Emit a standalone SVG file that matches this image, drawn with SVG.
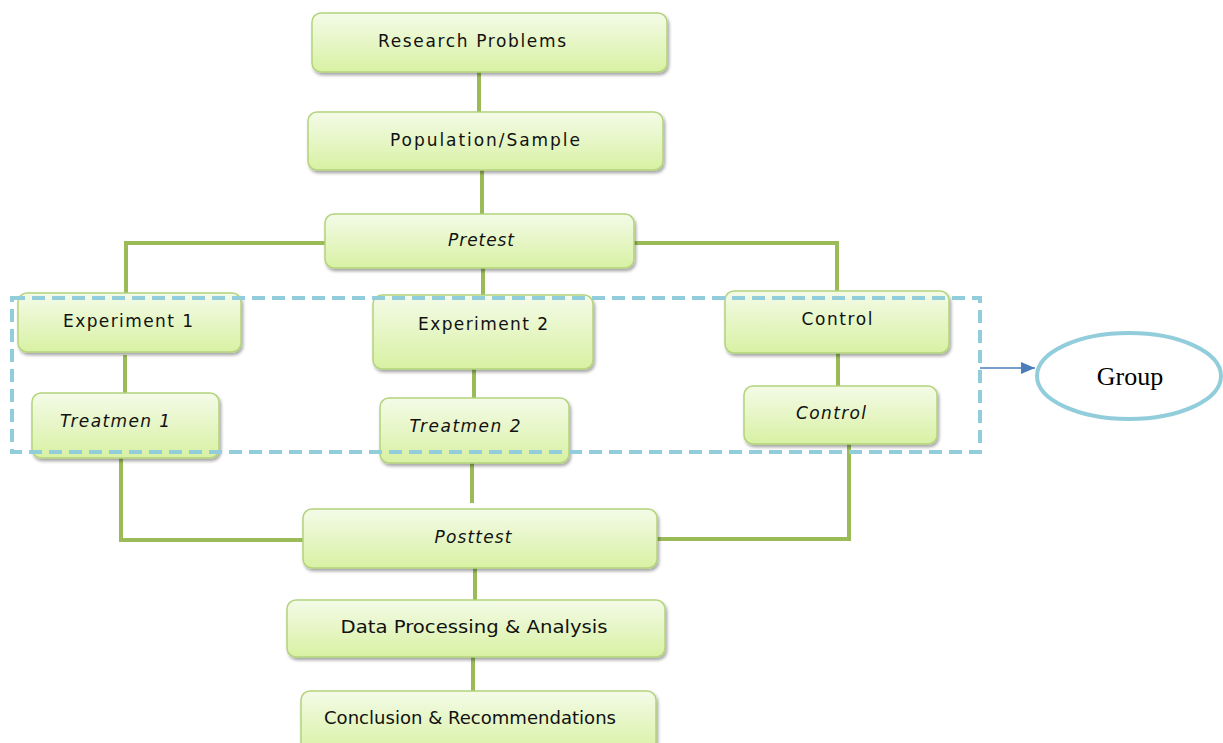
<svg xmlns="http://www.w3.org/2000/svg" width="1223" height="743" viewBox="0 0 1223 743">
<defs>
<linearGradient id="g" x1="0" y1="0" x2="0" y2="1">
<stop offset="0" stop-color="#F4FBE8"/>
<stop offset="1" stop-color="#D8F1A3"/>
</linearGradient>
<filter id="sh" x="-10%" y="-20%" width="130%" height="150%">
<feDropShadow dx="1.5" dy="2.5" stdDeviation="1.5" flood-color="#000" flood-opacity="0.35"/>
</filter>
<marker id="arr" markerWidth="14" markerHeight="14" refX="14" refY="7" orient="auto" markerUnits="userSpaceOnUse">
<path d="M0,1 L14,7 L0,13 z" fill="#4A7EBB"/>
</marker>
<style>
.box{fill:url(#g);stroke:#B3D47C;stroke-width:1.5;filter:url(#sh)}
.t{font-family:"DejaVu Sans","Verdana",sans-serif;font-size:17px;fill:#111;text-anchor:middle;dominant-baseline:central}
.i{font-style:italic}
.c{stroke:#9BBB59;stroke-width:4;fill:none}
</style>
</defs>
<g id="connectors">
<line class="c" x1="479" y1="72" x2="479" y2="113"/>
<line class="c" x1="482" y1="170" x2="482" y2="214"/>
<polyline class="c" points="325,243 126,243 126,293"/>
<polyline class="c" points="634,243 837,243 837,291"/>
<line class="c" x1="483" y1="268" x2="483" y2="295"/>
<line class="c" x1="125" y1="355" x2="125" y2="393"/>
<line class="c" x1="474" y1="369" x2="474" y2="398"/>
<line class="c" x1="838" y1="353" x2="838" y2="386"/>
<polyline class="c" points="121,458 121,540 303,540"/>
<line class="c" x1="472" y1="463" x2="472" y2="503"/>
<polyline class="c" points="849,444 849,539 657,539"/>
<line class="c" x1="475" y1="568" x2="475" y2="600"/>
<line class="c" x1="473" y1="657" x2="473" y2="691"/>
<line x1="980" y1="368" x2="1035" y2="368" stroke="#4A7EBB" stroke-width="1.5" marker-end="url(#arr)"/>
</g>
<g id="n-research"><rect class="box" x="312" y="13" width="355" height="59" rx="9"/><text class="t" x="472" y="41" textLength="188" lengthAdjust="spacing">Research Problems</text></g>
<g id="n-population"><rect class="box" x="308" y="112" width="355" height="58" rx="9"/><text class="t" x="485" y="140" textLength="190" lengthAdjust="spacing">Population/Sample</text></g>
<g id="n-pretest"><rect class="box" x="325" y="214" width="309" height="54" rx="9"/><text class="t i" x="481" y="240" textLength="66" lengthAdjust="spacing">Pretest</text></g>
<g id="n-exp1"><rect class="box" x="18" y="293" width="223" height="59" rx="9"/><text class="t" x="128" y="321" textLength="130" lengthAdjust="spacing">Experiment 1</text></g>
<g id="n-exp2"><rect class="box" x="373" y="295" width="220" height="74" rx="9"/><text class="t" x="483" y="324" textLength="130" lengthAdjust="spacing">Experiment 2</text></g>
<g id="n-control"><rect class="box" x="725" y="291" width="224" height="62" rx="9"/><text class="t" x="837" y="319" textLength="71" lengthAdjust="spacing">Control</text></g>
<g id="n-treat1"><rect class="box" x="32" y="393" width="187" height="65" rx="9"/><text class="t i" x="115" y="421" textLength="110" lengthAdjust="spacing">Treatmen 1</text></g>
<g id="n-treat2"><rect class="box" x="380" y="398" width="189" height="65" rx="9"/><text class="t i" x="465" y="426" textLength="111" lengthAdjust="spacing">Treatmen 2</text></g>
<g id="n-control2"><rect class="box" x="744" y="386" width="193" height="58" rx="9"/><text class="t i" x="831" y="413" textLength="70" lengthAdjust="spacing">Control</text></g>
<g id="n-posttest"><rect class="box" x="303" y="509" width="354" height="59" rx="9"/><text class="t i" x="473" y="537" textLength="77" lengthAdjust="spacing">Posttest</text></g>
<g id="n-data"><rect class="box" x="287" y="600" width="378" height="57" rx="9"/><text class="t" x="474" y="627" textLength="267" lengthAdjust="spacingAndGlyphs">Data Processing &amp; Analysis</text></g>
<g id="n-conclusion"><rect class="box" x="301" y="691" width="355" height="62" rx="9"/><text class="t" x="470" y="718" textLength="292" lengthAdjust="spacingAndGlyphs">Conclusion &amp; Recommendations</text></g>
<g id="n-groupbox"><rect x="12" y="298" width="968" height="154" fill="none" stroke="#92CDDC" stroke-width="4" stroke-dasharray="13,7"/></g>
<g id="n-group"><ellipse cx="1129" cy="376" rx="92" ry="43" fill="#fff" stroke="#92CDDC" stroke-width="4"/><text x="1130" y="376" font-family="Liberation Serif,serif" font-size="26" text-anchor="middle" dominant-baseline="central" fill="#000">Group</text></g>
</svg>
